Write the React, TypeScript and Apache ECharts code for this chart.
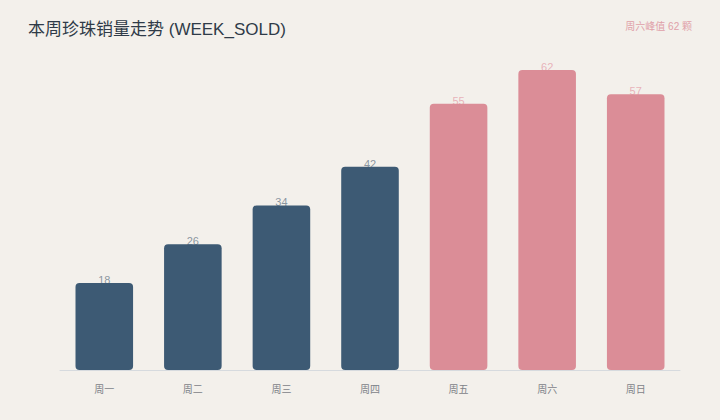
import React, { useEffect, useRef } from "react";
import * as echarts from "echarts";

const categories = ["周一", "周二", "周三", "周四", "周五", "周六", "周日"];
const sold = [18, 26, 34, 42, 55, 62, 57];
const highlightFrom = 4;
const titleText = "本周珍珠销量走势 (WEEK_SOLD)";
const noteText = "周六峰值 62 颗";

const DARK = "#3d5a74";
const PINK = "#db8d97";
const FONT = "'Liberation Sans', 'Noto Sans CJK SC', sans-serif";

export default function App() {
  const ref = useRef<HTMLDivElement>(null);
  useEffect(() => {
    if (!ref.current) return;
    const chart = echarts.init(ref.current, null, { renderer: "svg" });
    chart.setOption({
      animation: false,
      backgroundColor: "#f3f0eb",
      textStyle: { fontFamily: FONT },
      title: {
        text: titleText,
        left: 23,
        top: 16,
        textStyle: { fontSize: 17, fontWeight: "normal", color: "#2f3b48", fontFamily: FONT },
      },
      graphic: [
        {
          type: "text",
          right: 28,
          top: 21,
          style: { text: noteText, fill: "#e0a0a8", font: "10px " + FONT },
        },
      ],
      grid: { left: 60, right: 40, top: 70, bottom: 50 },
      xAxis: {
        type: "category",
        data: categories,
        axisLine: { lineStyle: { color: "#d6dade", width: 1 } },
        axisTick: { show: false },
        axisLabel: { color: "#7d8288", fontSize: 10, margin: 14, fontFamily: FONT },
      },
      yAxis: {
        type: "value",
        min: 0,
        max: 62,
        show: false,
        splitLine: { show: false },
      },
      series: [
        {
          type: "scatter",
          z: 1,
          symbolSize: 0,
          data: sold.map((v, i) => ({
            value: v,
            label: { color: i >= highlightFrom ? "#e5a3ab" : "#6f7e8c" },
          })),
          label: {
            show: true,
            position: "inside",
            offset: [0, -3],
            fontSize: 11,
            fontFamily: FONT,
            formatter: (p: any) => String(p.value),
          },
          silent: true,
        },
        {
          type: "bar",
          z: 2,
          barWidth: "65%",
          data: sold.map((v, i) => ({
            value: v,
            itemStyle: { color: i >= highlightFrom ? PINK : DARK },
          })),
          itemStyle: { borderRadius: 4 },
        },
      ],
    });
    return () => chart.dispose();
  }, []);
  return <div ref={ref} style={{ width: 720, height: 420, position: "fixed", left: 0, top: 0 }} />;
}
